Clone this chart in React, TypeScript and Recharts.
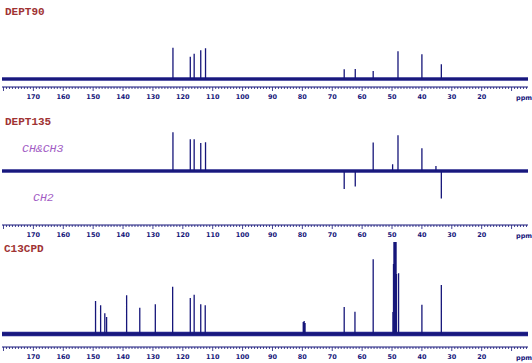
import React from 'react';
import { LineChart, Line, XAxis, YAxis } from 'recharts';

// ppm range of the recorded spectrum
const ppmRange: [number, number] = [4.5, 180.5];
const majorTicks = [170, 160, 150, 140, 130, 120, 110, 100, 90, 80, 70, 60, 50, 40, 30, 20];
const minorTicks = Array.from({ length: 176 }, (_, i) => 5 + i);

// [ppm, intensity]
const dept90Peaks: [number, number][] = [
  [123.3, 31.3], [117.5, 22.3], [116.2, 25.3], [114.0, 28.7], [112.4, 30.7],
  [66.0, 9.7], [62.3, 10], [56.3, 8], [48.0, 27.7], [40.0, 24.7], [33.5, 14.7],
];
const dept135Peaks: [number, number][] = [
  [123.3, 38.7], [117.5, 31.7], [116.2, 31.7], [114.0, 28], [112.4, 28.7],
  [66.0, -18], [62.3, -15.6], [56.3, 28.4], [49.8, 6.7], [48.0, 35.7],
  [40.0, 22.7], [35.3, 5], [33.5, -27.6],
];
const cpdPeaks: [number, number][] = [
  [149.2, 33], [147.5, 28.7], [146.1, 20.7], [145.5, 17], [138.8, 38.7],
  [134.4, 26.3], [129.2, 29.7], [123.4, 47.3], [117.5, 36], [116.2, 39.3],
  [114.0, 29.7], [112.5, 28.7], [79.7, 12], [79.4, 13], [79.1, 11],
  [66.0, 27], [62.4, 22.3], [56.3, 74.7], [49.7, 22], [49.5, 70],
  [49.35, 92], [49.15, 92], [49.0, 92], [48.85, 92], [48.65, 92], [48.5, 60],
  [47.8, 60.7], [40.0, 29.3], [33.5, 49],
];

const NAVY = '#16167a';

function toTrace(peaks: [number, number][]) {
  const pts: { ppm: number; v: number }[] = [{ ppm: ppmRange[1], v: 0 }];
  [...peaks].sort((a, b) => b[0] - a[0]).forEach(([p, h]) => {
    pts.push({ ppm: p, v: 0 }, { ppm: p, v: h }, { ppm: p, v: 0 });
  });
  pts.push({ ppm: ppmRange[0], v: 0 });
  return pts;
}

const baseline = [{ ppm: ppmRange[1], v: 0 }, { ppm: ppmRange[0], v: 0 }];

const AxisTick = (props: any) => {
  const { x, y, payload } = props;
  const v = payload.value;
  const major = v % 10 === 0;
  return (
    <g>
      <line x1={x} y1={y} x2={x} y2={y + (major ? 4 : 2)} stroke={NAVY} strokeWidth={0.8} />
      {majorTicks.includes(v) && (
        <text x={x} y={y + 12} textAnchor="middle" fontSize={6.5} fill={NAVY}
          fontFamily="DejaVu Sans" fontWeight="bold">
          {v}
        </text>
      )}
    </g>
  );
};

interface PanelProps {
  peaks: [number, number][];
  plotTop: number;
  axisY: number;
  domain: [number, number];
  band: number;
}

function Panel({ peaks, plotTop, axisY, domain, band }: PanelProps) {
  return (
    <div style={{ position: 'absolute', left: 0, top: 0 }}>
      <LineChart width={532} height={363}
        margin={{ top: plotTop, right: 4, left: 2, bottom: 363 - axisY - 14 }}>
        <XAxis dataKey="ppm" type="number" domain={ppmRange} reversed allowDataOverflow
          ticks={minorTicks} interval={0} tickSize={0} tickMargin={0} height={14}
          tick={<AxisTick />} tickLine={false} axisLine={{ stroke: NAVY, strokeWidth: 1 }} />
        <YAxis hide domain={domain} allowDataOverflow />
        {/* noisy baseline drawn as a band */}
        <Line data={baseline} dataKey="v" stroke="#22228a" strokeWidth={band} dot={false}
          isAnimationActive={false} />
        <Line data={toTrace(peaks)} dataKey="v" type="linear" stroke={NAVY} strokeWidth={1.3}
          dot={false} isAnimationActive={false} />
      </LineChart>
    </div>
  );
}

const titleStyle: React.CSSProperties = {
  position: 'absolute', fontFamily: '"Liberation Mono", monospace', fontWeight: 'bold',
  fontSize: 11, color: '#a03333', lineHeight: '12px',
};
const tagStyle: React.CSSProperties = {
  position: 'absolute', fontFamily: '"Liberation Mono", monospace', fontStyle: 'italic',
  fontSize: 11.5, color: '#a25cc4', lineHeight: '12px',
};
const ppmStyle: React.CSSProperties = {
  position: 'absolute', fontFamily: 'DejaVu Sans', fontWeight: 'bold',
  fontSize: 6.5, color: NAVY, lineHeight: '8px',
};

export default function App() {
  return (
    <div style={{ position: 'absolute', left: 0, top: 0, width: 532, height: 363, background: '#fff', overflow: 'hidden' }}>
      <Panel peaks={dept90Peaks} plotTop={20} axisY={87} domain={[-8, 59]} band={3.5} />
      <Panel peaks={dept135Peaks} plotTop={112} axisY={225} domain={[-54, 59]} band={3.5} />
      <Panel peaks={cpdPeaks} plotTop={242} axisY={347} domain={[-13, 92]} band={4.5} />
      <div style={{ ...titleStyle, left: 5, top: 6 }}>DEPT90</div>
      <div style={{ ...titleStyle, left: 5, top: 116 }}>DEPT135</div>
      <div style={{ ...titleStyle, left: 4, top: 243 }}>C13CPD</div>
      <div style={{ ...tagStyle, left: 22, top: 143 }}>CH&amp;CH3</div>
      <div style={{ ...tagStyle, left: 33, top: 192 }}>CH2</div>
      <div style={{ ...ppmStyle, left: 516, top: 94 }}>ppm</div>
      <div style={{ ...ppmStyle, left: 516, top: 232 }}>ppm</div>
      <div style={{ ...ppmStyle, left: 516, top: 354 }}>ppm</div>
    </div>
  );
}
